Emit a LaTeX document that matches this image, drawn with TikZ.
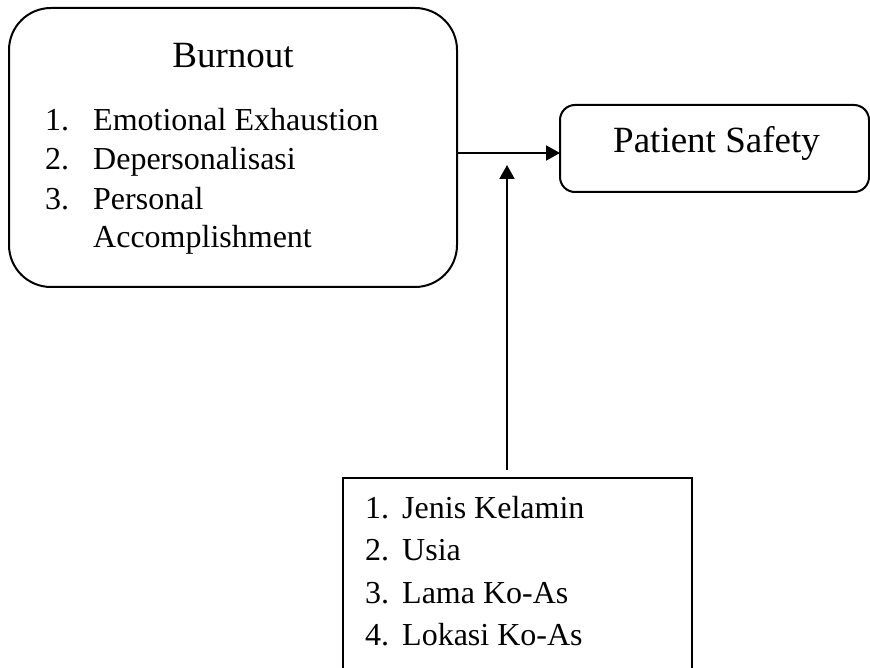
\documentclass[tikz,border=0pt]{standalone}
\usepackage{fontspec}
\setmainfont{Liberation Serif}
\usetikzlibrary{arrows.meta}
\tikzset{
  box/.style={draw=black, line width=2pt, inner sep=0pt, outer sep=0pt},
  arr/.style={line width=2pt, -{Triangle[length=14pt,width=15pt]}},
  title/.style={inner sep=0pt, anchor=base, font=\fontsize{37}{44}\selectfont},
  item/.style={inner sep=0pt, anchor=base west, font=\fontsize{32}{39}\selectfont},
}
\begin{document}
\begin{tikzpicture}[x=1pt,y=-1pt]
\clip (0,0) rectangle (870,668);
\useasboundingbox (0,0) rectangle (870,668);
% boxes
\node[box, rounded corners=42pt, minimum width=448pt, minimum height=279pt] (burn) at (233,147.5) {};
\node[box, rounded corners=15pt, minimum width=309pt, minimum height=87pt] (pat) at (714.5,148.5) {};
\node[box, minimum width=349pt, minimum height=240pt] (fact) at (517.5,598) {};
% texts in Burnout box
\node[title] (burnT) at (233,68) {Burnout};
\node[item] (b1n) at (45,131) {1.};
\node[item] (b1) at (93,131) {Emotional Exhaustion};
\node[item] (b2n) at (45,170) {2.};
\node[item] (b2) at (93,170) {Depersonalisasi};
\node[item] (b3n) at (45,209.5) {3.};
\node[item] (b3) at (93,209.5) {Personal};
\node[item] (b4) at (93,248) {Accomplishment};
% Patient Safety
\node[title] (patT) at (716.5,153) {Patient Safety};
% factors
\node[item] (f1n) at (365,518) {1.};
\node[item] (f1) at (402,518) {Jenis Kelamin};
\node[item] (f2n) at (365,560.5) {2.};
\node[item] (f2) at (402,560.5) {Usia};
\node[item] (f3n) at (365,603) {3.};
\node[item] (f3) at (402,603) {Lama Ko-As};
\node[item] (f4n) at (365,645) {4.};
\node[item] (f4) at (402,645) {Lokasi Ko-As};
% connectors
\coordinate (hy) at (0,153);
\coordinate (vx) at (507,0);
\coordinate (ve) at (507,165);
\draw[arr] (burn.east |- hy) -- (pat.west |- hy);
\draw[arr, shorten <=8pt] (fact.north -| vx) -- (ve);
\end{tikzpicture}
\end{document}
